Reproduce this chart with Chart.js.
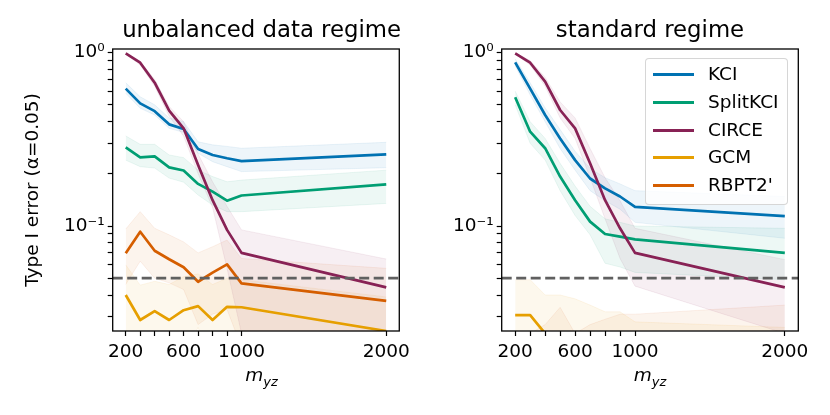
<!DOCTYPE html>
<html>
<head>
<meta charset="utf-8">
<script src="https://cdn.jsdelivr.net/npm/chart.js@4.4.1/dist/chart.umd.min.js"></script>
<style>
  body { margin: 0; background: #fff; font-family: "DejaVu Sans", sans-serif; }
  #wrap { position: relative; width: 830px; height: 415px; overflow: hidden; }
  .panel { position: absolute; top: 0; width: 415px; height: 415px; }
  .title { position: absolute; top: 18px; font-size: 22.8px; line-height: 22px; white-space: nowrap; transform: translateX(-50%); color: #000; }
  .xlab { position: absolute; top: 365px; font-size: 18.5px; line-height: 20px; white-space: nowrap; transform: translateX(-50%); font-style: italic; }
  .xlab sub { font-size: 13px; vertical-align: -5px; }
  #legend { position: absolute; left: 645px; top: 58px; width: 141px; height: 145px; border: 1px solid rgba(204,204,204,0.8); border-radius: 4px; background: rgba(255,255,255,0.8); }
  .row { position: absolute; left: 0; height: 20px; width: 140px; font-size: 18.5px; line-height: 20px; white-space: nowrap; }
  .row .ln { position: absolute; left: 7px; top: 9px; width: 41px; height: 3px; }
  .row .tx { position: absolute; left: 62px; top: 0; }
</style>
</head>
<body>
<div id="wrap">
  <div class="panel" style="left:0"><canvas id="c1" width="415" height="415"></canvas></div>
  <div class="panel" style="left:415px"><canvas id="c2" width="415" height="415"></canvas></div>
  <div class="title" style="left:261.6px">unbalanced data regime</div>
  <div class="title" style="left:650px">standard regime</div>
  <div class="xlab" style="left:261.6px">m<sub>yz</sub></div>
  <div class="xlab" style="left:650px">m<sub>yz</sub></div>
  <div id="legend"></div>
</div>
<script>
// sample sizes on the x axis
const M_YZ = [200, 300, 400, 500, 600, 700, 800, 900, 1000, 2000];
const X_TICKS = [200, 300, 400, 500, 600, 700, 800, 900, 1000, 2000];
const X_LABELS = [200, 600, 1000, 2000];
const Y_TICKS = [0.03, 0.04, 0.05, 0.06, 0.07, 0.08, 0.09, 0.1, 0.2, 0.3, 0.4, 0.5, 0.6, 0.7, 0.8, 0.9, 1];
const ALPHA = 0.05;
const X_MIN = 110, X_MAX = 2090;
const Y_MIN = 0.0248, Y_MAX = 1.05;

const NAMES = ['KCI', 'SplitKCI', 'CIRCE', 'GCM', "RBPT2'"];
const COLORS = ['0,114,178', '0,158,115', '136,34,85', '230,159,0', '213,94,0'];

// unbalanced data regime
const KCI_U      = [0.62, 0.51, 0.46, 0.386, 0.363, 0.278, 0.257, 0.246, 0.237, 0.259];
const KCI_U_LO   = [0.583, 0.478, 0.437, 0.366, 0.347, 0.263, 0.235, 0.22, 0.206, 0.217];
const KCI_U_HI   = [0.671, 0.557, 0.50, 0.42, 0.40, 0.306, 0.294, 0.288, 0.281, 0.304];
const SPLIT_U    = [0.284, 0.249, 0.252, 0.218, 0.209, 0.175, 0.158, 0.14, 0.15, 0.174];
const SPLIT_U_LO = [0.24, 0.22, 0.216, 0.189, 0.179, 0.151, 0.132, 0.121, 0.121, 0.135];
const SPLIT_U_HI = [0.331, 0.296, 0.296, 0.257, 0.248, 0.21, 0.193, 0.18, 0.184, 0.21];
const CIRCE_U    = [0.99, 0.875, 0.671, 0.463, 0.366, 0.225, 0.141, 0.095, 0.070, 0.0443];
const CIRCE_U_LO = [0.98, 0.85, 0.64, 0.43, 0.33, 0.2, 0.128, 0.057, 0.024, 0.02];
const CIRCE_U_HI = [1.0, 0.89, 0.70, 0.49, 0.40, 0.26, 0.18, 0.13, 0.095, 0.0645];
const GCM_U      = [0.040, 0.0287, 0.0323, 0.0287, 0.0327, 0.0345, 0.0287, 0.0342, 0.034, 0.0248];
const GCM_U_LO   = [0.02, 0.015, 0.018, 0.015, 0.018, 0.026, 0.015, 0.018, 0.018, 0.012];
const GCM_U_HI   = [0.0597, 0.0456, 0.048, 0.046, 0.051, 0.053, 0.046, 0.05, 0.049, 0.039];
const RBPT_U     = [0.0696, 0.0927, 0.072, 0.0643, 0.0578, 0.0477, 0.0538, 0.0601, 0.0467, 0.037];
const RBPT_U_LO  = [0.046, 0.0627, 0.050, 0.047, 0.043, 0.027, 0.031, 0.033, 0.02, 0.02];
const RBPT_U_HI  = [0.096, 0.121, 0.097, 0.089, 0.081, 0.070, 0.076, 0.083, 0.065, 0.057];

// standard regime
const KCI_S      = [0.88, 0.62, 0.437, 0.32, 0.24, 0.188, 0.165, 0.148, 0.129, 0.114];
const KCI_S_LO   = [0.84, 0.57, 0.40, 0.28, 0.21, 0.16, 0.14, 0.125, 0.105, 0.085];
const KCI_S_HI   = [0.92, 0.67, 0.48, 0.36, 0.27, 0.215, 0.19, 0.175, 0.16, 0.148];
const SPLIT_S    = [0.553, 0.35, 0.281, 0.193, 0.141, 0.106, 0.09, 0.0868, 0.0838, 0.070];
const SPLIT_S_LO = [0.50, 0.30, 0.24, 0.16, 0.115, 0.089, 0.061, 0.058, 0.054, 0.049];
const SPLIT_S_HI = [0.60, 0.40, 0.32, 0.23, 0.17, 0.13, 0.11, 0.105, 0.10, 0.097];
const CIRCE_S    = [0.99, 0.875, 0.68, 0.467, 0.366, 0.23, 0.141, 0.097, 0.070, 0.0443];
const CIRCE_S_LO = [0.98, 0.85, 0.64, 0.42, 0.32, 0.19, 0.11, 0.065, 0.045, 0.024];
const CIRCE_S_HI = [1.0, 0.9, 0.72, 0.52, 0.42, 0.28, 0.19, 0.14, 0.097, 0.064];
const GCM_S      = [0.0306, 0.0306, 0.024, 0.02, 0.018, 0.016, 0.015, 0.014, 0.012, 0.01];
const GCM_S_LO   = [0.015, 0.015, 0.012, 0.01, 0.01, 0.01, 0.01, 0.01, 0.008, 0.006];
const GCM_S_HI   = [0.049, 0.049, 0.040, 0.040, 0.038, 0.035, 0.032, 0.032, 0.028, 0.026];
const RBPT_S     = [0.012, 0.014, 0.015, 0.016, 0.014, 0.013, 0.015, 0.016, 0.015, 0.014];
const RBPT_S_LO  = [0.006, 0.007, 0.008, 0.008, 0.007, 0.007, 0.008, 0.008, 0.008, 0.007];
const RBPT_S_HI  = [0.020, 0.024, 0.027, 0.034, 0.024, 0.027, 0.029, 0.031, 0.031, 0.035];

const FONT = '"DejaVu Sans", sans-serif';
Chart.defaults.font.family = FONT;
Chart.defaults.color = '#000';

function pts(vals) {
  return M_YZ.map((x, i) => ({x: x, y: vals[i]}));
}

function buildDatasets(series) {
  const ds = [];
  series.forEach((s, i) => {
    const c = COLORS[i];
    ds.push({data: pts(s.lo), borderColor: 'rgba(' + c + ',0.10)', borderWidth: 0.8, fill: false,
             pointRadius: 0, order: 20});
    ds.push({data: pts(s.hi), borderColor: 'rgba(' + c + ',0.10)', borderWidth: 0.8, fill: '-1',
             backgroundColor: 'rgba(' + c + ',0.07)', pointRadius: 0, order: 20});
  });
  series.forEach((s, i) => {
    ds.push({label: NAMES[i], data: pts(s.mid), borderColor: 'rgb(' + COLORS[i] + ')', borderWidth: 2.7,
             fill: false, pointRadius: 0, tension: 0, borderJoinStyle: 'round', order: 10 - i});
  });
  ds.push({data: [{x: X_MIN, y: ALPHA}, {x: X_MAX, y: ALPHA}], borderColor: '#606060', borderWidth: 2.8,
           borderDash: [10, 4.5], pointRadius: 0, fill: false, order: 0});
  return ds;
}

const framePlugin = {
  id: 'frame',
  afterDraw(chart) {
    const a = chart.chartArea, ctx = chart.ctx;
    ctx.save();
    ctx.strokeStyle = '#000';
    ctx.lineWidth = 1.3;
    ctx.strokeRect(a.left, a.top, a.right - a.left, a.bottom - a.top);
    ctx.restore();
  }
};

function makeChart(id, series, yWidth, rightPad, showTitle) {
  return new Chart(document.getElementById(id), {
    type: 'line',
    data: {datasets: buildDatasets(series)},
    options: {
      responsive: false,
      animation: false,
      layout: {padding: {top: 49, right: rightPad, left: 0, bottom: 0}},
      plugins: {legend: {display: false}, tooltip: {enabled: false}},
      scales: {
        x: {
          type: 'linear', min: X_MIN, max: X_MAX,
          afterBuildTicks: s => { s.ticks = X_TICKS.map(v => ({value: v})); },
          afterFit: s => { s.height = 84; },
          grid: {drawOnChartArea: false, tickLength: 5, tickColor: '#000', tickWidth: 1.2},
          border: {display: false},
          ticks: {autoSkip: false, maxRotation: 0, padding: 5, font: {size: 18.5},
                  callback: v => X_LABELS.includes(v) ? String(v) : ''}
        },
        y: {
          type: 'logarithmic', min: Y_MIN, max: Y_MAX,
          afterBuildTicks: s => { s.ticks = Y_TICKS.map(v => ({value: v})); },
          afterFit: s => { s.width = yWidth; },
          grid: {drawOnChartArea: false, tickLength: 5, tickColor: '#000', tickWidth: 1.2},
          border: {display: false},
          title: {display: showTitle, text: 'Type I error (α=0.05)', font: {size: 18.5},
                  padding: {top: 22, bottom: 0}},
          ticks: {autoSkip: false, padding: 3, font: {size: 18.5},
                  callback: v => v === 1 ? '10⁰' : (v === 0.1 ? '10⁻¹' : '')}
        }
      }
    },
    plugins: [framePlugin]
  });
}

makeChart('c1', [
  {mid: KCI_U, lo: KCI_U_LO, hi: KCI_U_HI},
  {mid: SPLIT_U, lo: SPLIT_U_LO, hi: SPLIT_U_HI},
  {mid: CIRCE_U, lo: CIRCE_U_LO, hi: CIRCE_U_HI},
  {mid: GCM_U, lo: GCM_U_LO, hi: GCM_U_HI},
  {mid: RBPT_U, lo: RBPT_U_LO, hi: RBPT_U_HI}
], 112.7, 4.5, true);

makeChart('c2', [
  {mid: KCI_S, lo: KCI_S_LO, hi: KCI_S_HI},
  {mid: SPLIT_S, lo: SPLIT_S_LO, hi: SPLIT_S_HI},
  {mid: CIRCE_S, lo: CIRCE_S_LO, hi: CIRCE_S_HI},
  {mid: GCM_S, lo: GCM_S_LO, hi: GCM_S_HI},
  {mid: RBPT_S, lo: RBPT_S_LO, hi: RBPT_S_HI}
], 86.7, 31.7, false);

// legend box in the right panel
const legend = document.getElementById('legend');
NAMES.forEach((n, i) => {
  const row = document.createElement('div');
  row.className = 'row';
  row.style.top = (5 + 27.75 * i) + 'px';
  row.innerHTML = '<span class="ln" style="background:rgb(' + COLORS[i] + ')"></span><span class="tx"></span>';
  row.querySelector('.tx').textContent = n;
  legend.appendChild(row);
});
</script>
</body>
</html>
